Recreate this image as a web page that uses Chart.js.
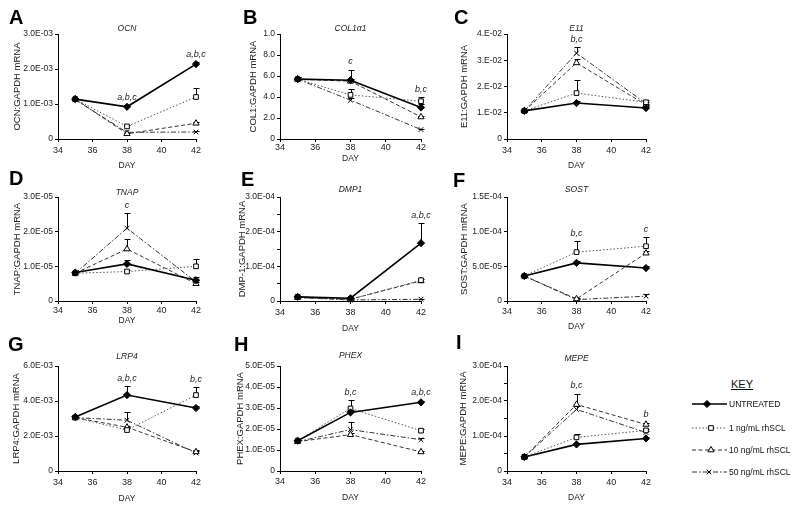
<!DOCTYPE html>
<html>
<head>
<meta charset="utf-8">
<script src="https://cdn.jsdelivr.net/npm/chart.js@4.4.1/dist/chart.umd.min.js"></script>
<style>
  body { margin: 0; background: #fff; width: 800px; height: 509px; position: relative; overflow: hidden;
         font-family: Arial, "Liberation Sans", sans-serif; }
  canvas { position: absolute; }
  .letter { position: absolute; font: bold 20px/20px Arial, "Liberation Sans", sans-serif; color: #000; }
  .keytxt { position: absolute; font-size: 8.5px; line-height: 10px; color: #111; white-space: nowrap; }
  #keyhead { position: absolute; left: 722px; top: 378px; width: 40px; text-align: center;
             font-size: 11px; line-height: 13px; text-decoration: underline; color: #111; }
</style>
</head>
<body>
<div id="keyhead">KEY</div>
<script>
// days sampled, series and x ticks
const days = [35, 38, 42];
const dayTicks = [34, 36, 38, 40, 42];
const seriesNames = ['UNTREATED', '1 ng/mL rhSCL', '10 ng/mL rhSCL', '50 ng/mL rhSCL'];

// A - OCN
const ocnValues = [[1.14e-3, 0.92e-3, 2.14e-3], [1.14e-3, 0.36e-3, 1.2e-3], [1.14e-3, 0.15e-3, 0.45e-3], [1.12e-3, 0.19e-3, 0.2e-3]];
const ocnErrors = [[0.04e-3, 0.05e-3, 0.05e-3], [0, 0.04e-3, 0.25e-3], [0, 0.03e-3, 0.05e-3], [0, 0, 0.03e-3]];
const ocnTicks = [0, 1e-3, 2e-3, 3e-3];
const ocnTickLabels = ['0', '1.0E-03', '2.0E-03', '3.0E-03'];
const ocnNotes = [[1, 'a,b,c'], [2, 'a,b,c']];

// B - COL1a1
const colValues = [[0.57, 0.56, 0.30], [0.57, 0.42, 0.36], [0.57, 0.55, 0.21], [0.57, 0.37, 0.09]];
const colErrors = [[0.02, 0.10, 0.03], [0.02, 0.06, 0.04], [0, 0.02, 0.01], [0, 0.02, 0.01]];
const colTicks = [0, 0.2, 0.4, 0.6, 0.8, 1.0];
const colTickLabels = ['0', '2.0', '4.0', '6.0', '8.0', '1.0'];
const colNotes = [[1, 'c'], [2, 'b,c']];

// C - E11
const e11Values = [[1.07e-2, 1.37e-2, 1.18e-2], [1.07e-2, 1.75e-2, 1.4e-2], [1.07e-2, 2.9e-2, 1.3e-2], [1.07e-2, 3.27e-2, 1.35e-2]];
const e11Errors = [[0.05e-2, 0.08e-2, 0.1e-2], [0, 0.5e-2, 0.1e-2], [0, 0.15e-2, 0.05e-2], [0, 0.23e-2, 0.05e-2]];
const e11Ticks = [0, 1e-2, 2e-2, 3e-2, 4e-2];
const e11TickLabels = ['0', '1.E-02', '2.E-02', '3.E-02', '4.E-02'];
const e11Notes = [[1, 'b,c']];

// D - TNAP
const tnapValues = [[0.82e-5, 1.07e-5, 0.6e-5], [0.8e-5, 0.85e-5, 1.0e-5], [0.8e-5, 1.5e-5, 0.5e-5], [0.8e-5, 2.1e-5, 0.55e-5]];
const tnapErrors = [[0.03e-5, 0.1e-5, 0.1e-5], [0, 0.05e-5, 0.2e-5], [0, 0.3e-5, 0.05e-5], [0, 0.43e-5, 0.05e-5]];
const tnapTicks = [0, 1e-5, 2e-5, 3e-5];
const tnapTickLabels = ['0', '1.0E-05', '2.0E-05', '3.0E-05'];
const tnapNotes = [[1, 'c']];

// E - DMP1
const dmpValues = [[0.12e-4, 0.08e-4, 1.67e-4], [0.12e-4, 0.05e-4, 0.6e-4], [0.1e-4, 0.05e-4, 0.58e-4], [0.1e-4, 0.03e-4, 0.05e-4]];
const dmpErrors = [[0.02e-4, 0.02e-4, 0.57e-4], [0, 0, 0.04e-4], [0, 0, 0], [0, 0, 0.02e-4]];
const dmpTicks = [0, 0.5e-4, 1e-4, 1.5e-4, 2e-4, 2.5e-4, 3e-4];
const dmpTickLabels = ['0', '', '1.0E-04', '', '2.0E-04', '', '3.0E-04'];
const dmpNotes = [[2, 'a,b,c']];

// F - SOST
const sostValues = [[3.6e-5, 5.5e-5, 4.75e-5], [3.6e-5, 7.05e-5, 7.9e-5], [3.6e-5, 0.3e-5, 6.9e-5], [3.6e-5, 0.2e-5, 0.7e-5]];
const sostErrors = [[0.1e-5, 0.3e-5, 0.3e-5], [0, 1.6e-5, 1.3e-5], [0, 0.2e-5, 0.3e-5], [0, 0.1e-5, 0.3e-5]];
const sostTicks = [0, 5e-5, 1e-4, 1.5e-4];
const sostTickLabels = ['0', '5.0E-05', '1.0E-04', '1.5E-04'];
const sostNotes = [[1, 'b,c'], [2, 'c']];

// G - LRP4
const lrpValues = [[3.09e-3, 4.34e-3, 3.6e-3], [3.05e-3, 2.34e-3, 4.34e-3], [3.05e-3, 2.5e-3, 1.09e-3], [3.05e-3, 2.9e-3, 1.03e-3]];
const lrpErrors = [[0.1e-3, 0.5e-3, 0.1e-3], [0, 0.2e-3, 0.45e-3], [0, 0.1e-3, 0.1e-3], [0, 0.5e-3, 0.1e-3]];
const lrpTicks = [0, 2e-3, 4e-3, 6e-3];
const lrpTickLabels = ['0', '2.0E-03', '4.0E-03', '6.0E-03'];
const lrpNotes = [[1, 'a,b,c'], [2, 'b,c']];

// H - PHEX
const phexValues = [[1.44e-5, 2.79e-5, 3.27e-5], [1.44e-5, 2.98e-5, 1.92e-5], [1.4e-5, 1.73e-5, 0.91e-5], [1.4e-5, 1.97e-5, 1.49e-5]];
const phexErrors = [[0.05e-5, 0.1e-5, 0.08e-5], [0, 0.38e-5, 0.1e-5], [0, 0.1e-5, 0.05e-5], [0, 0.34e-5, 0.1e-5]];
const phexTicks = [0, 1e-5, 2e-5, 3e-5, 4e-5, 5e-5];
const phexTickLabels = ['0', '1.0E-05', '2.0E-05', '3.0E-05', '4.0E-05', '5.0E-05'];
const phexNotes = [[1, 'b,c'], [2, 'a,b,c']];

// I - MEPE
const mepeValues = [[0.4e-4, 0.76e-4, 0.93e-4], [0.4e-4, 0.96e-4, 1.16e-4], [0.4e-4, 1.9e-4, 1.33e-4], [0.4e-4, 1.76e-4, 1.1e-4]];
const mepeErrors = [[0.02e-4, 0.05e-4, 0.05e-4], [0, 0.1e-4, 0.05e-4], [0, 0.31e-4, 0.05e-4], [0, 0.1e-4, 0.05e-4]];
const mepeTicks = [0, 0.5e-4, 1e-4, 1.5e-4, 2e-4, 2.5e-4, 3e-4];
const mepeTickLabels = ['0', '', '1.0E-04', '', '2.0E-04', '', '3.0E-04'];
const mepeNotes = [[1, 'b,c'], [2, 'b']];

Chart.defaults.font.family = 'Arial, "Liberation Sans", sans-serif';
Chart.defaults.color = '#222';

// line / marker look of each treatment
const seriesStyles = [
  { borderColor: '#000', borderWidth: 1.6, borderDash: [], pointStyle: 'rectRot', pointRadius: 3.6, pointBackgroundColor: '#000' },
  { borderColor: '#555', borderWidth: 1, borderDash: [1.5, 2], pointStyle: 'rect', pointRadius: 3.3, pointBackgroundColor: '#fff' },
  { borderColor: '#333', borderWidth: 1, borderDash: [4, 2.5], pointStyle: 'triangle', pointRadius: 3.6, pointBackgroundColor: '#fff' },
  { borderColor: '#333', borderWidth: 1, borderDash: [5, 2, 1.5, 2], pointStyle: 'crossRot', pointRadius: 3.3, pointBackgroundColor: '#fff' }
];

const cols = [{ ax: 58, x42: 196 }, { ax: 280, x42: 421 }, { ax: 507, x42: 646 }];
const rows = [{ top: 34, bot: 139 }, { top: 197, bot: 301 }, { top: 366, bot: 471 }];

const panels = [
  { letter: 'A', lx: 9, ly: 7, title: 'OCN', yTitle: 'OCN:GAPDH mRNA', values: ocnValues, errors: ocnErrors, ticks: ocnTicks, labels: ocnTickLabels, notes: ocnNotes, col: 0, row: 0, titleDist: 40, dayOff: 27, tickOff: 12, titleGap: 5 },
  { letter: 'B', lx: 243, ly: 7, title: 'COL1\u03b11', yTitle: 'COL1:GAPDH mRNA', values: colValues, errors: colErrors, ticks: colTicks, labels: colTickLabels, notes: colNotes, col: 1, row: 0, titleDist: 26, dayOff: 20, tickOff: 9, titleGap: 5 },
  { letter: 'C', lx: 454, ly: 7, title: 'E11', yTitle: 'E11:GAPDH mRNA', values: e11Values, errors: e11Errors, ticks: e11Ticks, labels: e11TickLabels, notes: e11Notes, col: 2, row: 0, titleDist: 42, dayOff: 27, tickOff: 12, titleGap: 5 },
  { letter: 'D', lx: 9, ly: 168, title: 'TNAP', yTitle: 'TNAP:GAPDH mRNA', values: tnapValues, errors: tnapErrors, ticks: tnapTicks, labels: tnapTickLabels, notes: tnapNotes, col: 0, row: 1, titleDist: 40, dayOff: 20, tickOff: 10, titleGap: 4 },
  { letter: 'E', lx: 241, ly: 169, title: 'DMP1', yTitle: 'DMP-1:GAPDH mRNA', values: dmpValues, errors: dmpErrors, ticks: dmpTicks, labels: dmpTickLabels, notes: dmpNotes, col: 1, row: 1, titleDist: 37, dayOff: 28, tickOff: 12, titleGap: 7 },
  { letter: 'F', lx: 453, ly: 170, title: 'SOST', yTitle: 'SOST:GAPDH mRNA', values: sostValues, errors: sostErrors, ticks: sostTicks, labels: sostTickLabels, notes: sostNotes, col: 2, row: 1, titleDist: 42, dayOff: 26, tickOff: 11, titleGap: 7 },
  { letter: 'G', lx: 8, ly: 334, title: 'LRP4', yTitle: 'LRP4:GAPDH mRNA', values: lrpValues, errors: lrpErrors, ticks: lrpTicks, labels: lrpTickLabels, notes: lrpNotes, col: 0, row: 2, titleDist: 41, dayOff: 28, tickOff: 12, titleGap: 9 },
  { letter: 'H', lx: 234, ly: 334, title: 'PHEX', yTitle: 'PHEX:GAPDH mRNA', values: phexValues, errors: phexErrors, ticks: phexTicks, labels: phexTickLabels, notes: phexNotes, col: 1, row: 2, titleDist: 39, dayOff: 27, tickOff: 11, titleGap: 10 },
  { letter: 'I', lx: 456, ly: 332, title: 'MEPE', yTitle: 'MEPE:GAPDH mRNA', values: mepeValues, errors: mepeErrors, ticks: mepeTicks, labels: mepeTickLabels, notes: mepeNotes, col: 2, row: 2, titleDist: 43, dayOff: 27, tickOff: 12, titleGap: 7 }
];

// error bars (behind markers), significance letters and the gene title
function decor(p) {
  return {
    id: 'decor' + p.letter,
    beforeDatasetsDraw(chart) {
      const { ctx, scales: { x, y } } = chart;
      ctx.save();
      ctx.strokeStyle = '#000';
      ctx.lineWidth = 1;
      p.values.forEach((vals, s) => vals.forEach((v, i) => {
        const e = p.errors[s][i];
        if (!e) return;
        const px = Math.round(x.getPixelForValue(days[i])) + 0.5;
        const y0 = y.getPixelForValue(v);
        const y1 = Math.round(y.getPixelForValue(v + e)) + 0.5;
        ctx.beginPath();
        ctx.moveTo(px, y0); ctx.lineTo(px, y1);
        ctx.moveTo(px - 3, y1); ctx.lineTo(px + 3, y1);
        ctx.stroke();
      }));
      ctx.restore();
    },
    afterDatasetsDraw(chart) {
      const { ctx, chartArea, scales: { x, y } } = chart;
      ctx.save();
      ctx.fillStyle = '#222';
      ctx.textAlign = 'center';
      ctx.textBaseline = 'middle';
      ctx.font = 'italic 9px Arial, "Liberation Sans", sans-serif';
      p.notes.forEach(([i, txt]) => {
        let top = Infinity;
        p.values.forEach((vals, s) => { top = Math.min(top, y.getPixelForValue(vals[i] + p.errors[s][i])); });
        ctx.fillText(txt, x.getPixelForValue(days[i]), top - 8);
      });
      ctx.font = 'italic 8.5px Arial, "Liberation Sans", sans-serif';
      ctx.fillText(p.title, (chartArea.left + chartArea.right) / 2, chartArea.top - p.titleGap);
      ctx.restore();
    }
  };
}

panels.forEach(p => {
  const c = cols[p.col], r = rows[p.row];
  const W = p.titleDist + 6, H = p.dayOff + 5;
  const padL = 2, padR = 14, padT = 22, padB = 2;
  const cv = document.createElement('canvas');
  cv.width = padL + W + (c.x42 - c.ax) + padR;
  cv.height = padT + (r.bot - r.top) + H + padB;
  cv.style.left = (c.ax - W - padL) + 'px';
  cv.style.top = (r.top - padT) + 'px';
  document.body.appendChild(cv);

  const lt = document.createElement('div');
  lt.className = 'letter';
  lt.textContent = p.letter;
  lt.style.left = p.lx + 'px';
  lt.style.top = p.ly + 'px';
  document.body.appendChild(lt);

  new Chart(cv, {
    type: 'line',
    data: {
      datasets: p.values.map((vals, s) => Object.assign({
        label: seriesNames[s],
        data: vals.map((v, i) => ({ x: days[i], y: v })),
        pointBorderColor: '#000',
        pointBorderWidth: 1,
        fill: false,
        tension: 0,
        clip: false
      }, seriesStyles[s]))
    },
    options: {
      responsive: false,
      animation: false,
      devicePixelRatio: 1,
      layout: { padding: { left: padL, right: padR, top: padT, bottom: padB } },
      plugins: { legend: { display: false }, tooltip: { enabled: false } },
      scales: {
        x: {
          type: 'linear', min: 34, max: 42,
          afterBuildTicks: s => { s.ticks = dayTicks.map(v => ({ value: v })); },
          afterFit: s => { s.height = H; },
          ticks: { font: { size: 9 }, color: '#222', padding: p.tickOff - 8.4, maxRotation: 0, autoSkip: false, callback: v => String(v) },
          grid: { drawOnChartArea: false, tickLength: 3, color: '#000' },
          border: { color: '#000', width: 1 },
          title: { display: true, text: 'DAY', font: { size: 8.5 }, color: '#222', padding: 0 }
        },
        y: {
          min: 0, max: p.ticks[p.ticks.length - 1],
          afterBuildTicks: s => { s.ticks = p.ticks.map(v => ({ value: v })); },
          afterFit: s => { s.width = W; },
          ticks: { font: { size: 8.5 }, color: '#222', padding: 2, autoSkip: false, callback: (v, i) => p.labels[i] },
          grid: { drawOnChartArea: false, tickLength: 3, color: '#000' },
          border: { color: '#000', width: 1 },
          title: { display: true, text: p.yTitle, font: { size: 9.5 }, color: '#222', padding: 0 }
        }
      }
    },
    plugins: [decor(p)]
  });
});

// key
const keyRows = [404, 428, 450, 472];
const keyMarkerX = [17, 21, 21, 19];
seriesNames.forEach((name, s) => {
  const st = seriesStyles[s];
  const kc = document.createElement('canvas');
  kc.width = 40; kc.height = 12;
  kc.style.left = '690px';
  kc.style.top = (keyRows[s] - 6) + 'px';
  document.body.appendChild(kc);
  const ctx = kc.getContext('2d');
  ctx.strokeStyle = st.borderColor;
  ctx.lineWidth = st.borderWidth;
  ctx.setLineDash(st.borderDash);
  ctx.beginPath();
  ctx.moveTo(2, 6); ctx.lineTo(37, 6);
  ctx.stroke();
  ctx.setLineDash([]);
  ctx.strokeStyle = '#000';
  ctx.fillStyle = st.pointBackgroundColor;
  ctx.lineWidth = 1;
  Chart.helpers.drawPoint(ctx, { pointStyle: st.pointStyle, radius: st.pointRadius, borderWidth: 1, rotation: 0 }, keyMarkerX[s], 6);

  const t = document.createElement('div');
  t.className = 'keytxt';
  t.textContent = name;
  t.style.left = '729px';
  t.style.top = (keyRows[s] - 5) + 'px';
  document.body.appendChild(t);
});
</script>
</body>
</html>
